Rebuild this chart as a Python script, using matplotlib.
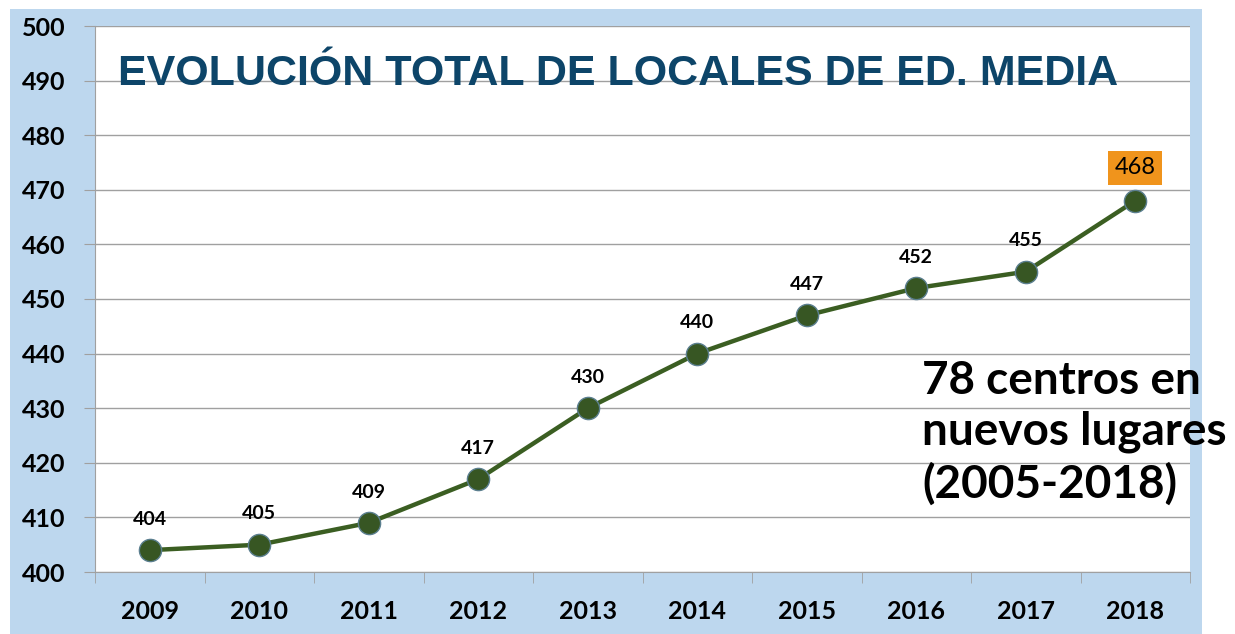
import matplotlib
matplotlib.use("Agg")
from matplotlib import pyplot as plt
from matplotlib.patches import Rectangle


years = ['2009', '2010', '2011', '2012', '2013', '2014', '2015', '2016', '2017', '2018']
locales = [404, 405, 409, 417, 430, 440, 447, 452, 455, 468]
y_ticks = [400, 410, 420, 430, 440, 450, 460, 470, 480, 490, 500]

title = 'EVOLUCIÓN TOTAL DE LOCALES DE ED. MEDIA'
note = '78 centros en\nnuevos lugares\n(2005-2018)'

W, H = 1235, 634
fig = plt.figure(figsize=(W / 100, H / 100), dpi=100)
fig.patch.set_facecolor('white')

# light blue panel behind the chart
fig.patches.append(Rectangle((10 / W, 0), 1192 / W, 625 / H, transform=fig.transFigure,
                             facecolor='#BDD7EE', edgecolor='none', zorder=-1))

ax = fig.add_axes([95 / W, 62 / H, 1095 / W, 546 / H])
ax.set_facecolor('white')

x = list(range(len(years)))
ax.plot(x, locales, color='#3B5E22', linewidth=3.2, zorder=3)
ax.plot(x, locales, 'o', markersize=16, markerfacecolor='#375623',
        markeredgecolor='#5B7F8F', markeredgewidth=1, zorder=4)

ax.set_xlim(-0.5, len(years) - 0.5)
ax.set_ylim(400, 500)
ax.set_yticks(y_ticks)
ax.set_yticklabels([str(t) for t in y_ticks], fontsize=18, fontweight='bold', family='Lato')
ax.set_xticks(x)
ax.set_xticklabels(years, fontsize=18, fontweight='bold', family='Lato')
ax.set_xticks([i - 0.5 for i in range(len(years) + 1)], minor=True)
ax.tick_params(axis='x', which='major', length=0, pad=20)
ax.tick_params(axis='x', which='minor', length=8, color='#A0A0A0')
ax.tick_params(axis='y', length=8, color='#A0A0A0', pad=13)

ax.grid(axis='y', color='#A0A0A0', linewidth=1, zorder=1)
ax.set_axisbelow(True)
for side in ['top', 'right']:
    ax.spines[side].set_visible(False)
for side in ['left', 'bottom']:
    ax.spines[side].set_color('#A0A0A0')

# value labels
for i, v in enumerate(locales[:-1]):
    ax.annotate(str(v), (i, v), xytext=(0, 16), textcoords='offset points',
                ha='center', va='bottom', fontsize=14, fontweight='bold', family='Lato')
ax.annotate(str(locales[-1]), (x[-1], locales[-1]), xytext=(0, 16), textcoords='offset points',
            ha='center', va='bottom', fontsize=17, family='Lato',
            bbox=dict(boxstyle='square,pad=0.28', facecolor='#F0941C', edgecolor='none'))

ax.text(0.021, 0.912, title, transform=ax.transAxes, fontsize=31, fontweight='bold',
        color='#0D4569', family='Liberation Sans', ha='left', va='center', zorder=2)

fig.text(922 / W, (H - 433) / H, note, fontsize=33, fontweight='bold', family='Lato',
         ha='left', va='center', linespacing=1.25, zorder=5)

plt.savefig('out.png', dpi=100)
